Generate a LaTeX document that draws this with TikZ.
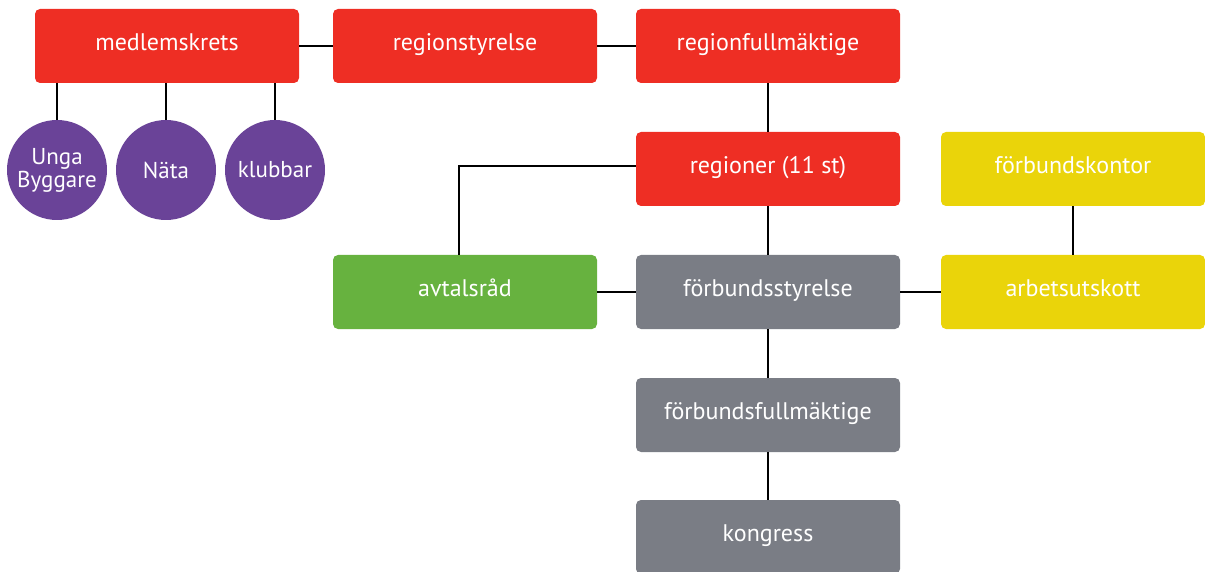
\documentclass[tikz,border=0pt]{standalone}
\usepackage{fontspec}
\setmainfont{PT Sans}
\usetikzlibrary{positioning,calc}
\definecolor{orgred}{HTML}{EE2E24}
\definecolor{orgpurple}{HTML}{6A4398}
\definecolor{orggreen}{HTML}{67B23F}
\definecolor{orggray}{HTML}{7A7D85}
\definecolor{orgyellow}{HTML}{EAD40A}
\tikzset{
    orgbox/.style={rectangle,rounded corners=5pt,minimum width=264pt,minimum height=74pt,
        text=white,font=\fontsize{24}{26}\selectfont,inner sep=0pt,
        text height=1.85ex,text depth=0.2ex},
    orgcircle/.style={circle,fill=orgpurple,minimum size=100pt,inner sep=0pt,text=white,
        align=center,font=\fontsize{23}{23}\selectfont},
    link/.style={draw=black,line width=2.5pt}
}
\begin{document}
\begin{tikzpicture}[x=1pt,y=-1pt]
            \useasboundingbox (0,0) rectangle (1205,572);
            \node[orgbox,fill=orgred] (medlem) at (167,46) {medlemskrets};
            \node[orgbox,fill=orgred] (regstyr) at (465,46) {regionstyrelse};
            \node[orgbox,fill=orgred] (regfull) at (768,46) {regionfullmäktige};
            \node[orgbox,fill=orgred] (regioner) at (768,169) {regioner (11 st)};
            \node[orgbox,fill=orgyellow] (kontor) at (1073,169) {förbundskontor};
            \node[orgbox,fill=orggreen] (avtal) at (465,292) {avtalsråd};
            \node[orgbox,fill=orggray] (fstyr) at (768,292) {förbundsstyrelse};
            \node[orgbox,fill=orgyellow] (arbets) at (1073,292) {arbetsutskott};
            \node[orgbox,fill=orggray] (ffull) at (768,415) {förbundsfullmäktige};
            \node[orgbox,fill=orggray] (kongress) at (768,537) {kongress};
            \node[orgcircle] (unga) at (57,170) {Unga\\Byggare};
            \node[orgcircle] (nata) at (166,170) {Näta};
            \node[orgcircle] (klubb) at (275,170) {klubbar};
            % connectors
            \draw[link] (medlem) -- (regstyr);
            \draw[link] (regstyr) -- (regfull);
            \draw[link] (regfull) -- (regioner);
            \draw[link] (regioner) -- (fstyr);
            \draw[link] (fstyr) -- (ffull);
            \draw[link] (ffull) -- (kongress);
            \draw[link] (avtal) -- (fstyr);
            \draw[link] (fstyr) -- (arbets);
            \draw[link] (kontor) -- (arbets);
            \draw[link] ([yshift=3pt]regioner.west) -| ([xshift=-6pt]avtal.north);
            \foreach \c in {unga,nata,klubb}
                \draw[link] (\c.north) -- (\c.north |- medlem.south);
        \end{tikzpicture}
\end{document}
